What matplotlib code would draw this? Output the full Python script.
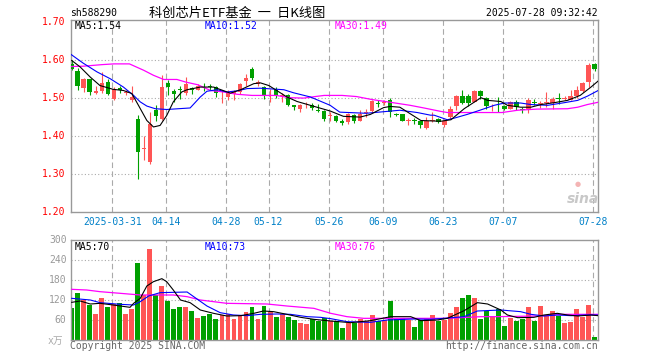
import matplotlib
matplotlib.use("Agg")
import matplotlib.pyplot as plt
import numpy as np

# ---- data (88 trading days, index 0 .. 87) ----
opens = [1.589, 1.569, 1.525, 1.548, 1.512, 1.518, 1.541, 1.497, 1.526, 1.512,
         1.495, 1.443, 1.364, 1.331, 1.467, 1.443, 1.540, 1.517, 1.522, 1.512,
         1.526, 1.521, 1.529, 1.531, 1.528, 1.501, 1.502, 1.509, 1.515, 1.544,
         1.575, 1.537, 1.528, 1.514, 1.521, 1.505, 1.508, 1.480, 1.469, 1.485,
         1.482, 1.467, 1.465, 1.453, 1.451, 1.440, 1.436, 1.454, 1.440, 1.461,
         1.464, 1.485, 1.486, 1.495, 1.456, 1.456, 1.439, 1.441, 1.439, 1.421,
         1.438, 1.443, 1.427, 1.449, 1.477, 1.504, 1.504, 1.490, 1.517, 1.500,
         1.477, 1.479, 1.478, 1.471, 1.490, 1.469, 1.469, 1.490, 1.483, 1.486,
         1.487, 1.500, 1.497, 1.495, 1.504, 1.517, 1.541, 1.589]
highs = [1.598, 1.578, 1.552, 1.548, 1.532, 1.567, 1.550, 1.528, 1.532, 1.521,
         1.530, 1.454, 1.398, 1.462, 1.482, 1.559, 1.546, 1.524, 1.532, 1.554,
         1.528, 1.537, 1.539, 1.535, 1.531, 1.519, 1.521, 1.521, 1.539, 1.563,
         1.582, 1.547, 1.532, 1.524, 1.528, 1.512, 1.511, 1.482, 1.484, 1.490,
         1.486, 1.484, 1.467, 1.462, 1.454, 1.443, 1.460, 1.458, 1.468, 1.471,
         1.493, 1.493, 1.493, 1.500, 1.460, 1.458, 1.447, 1.447, 1.440, 1.449,
         1.462, 1.447, 1.445, 1.477, 1.506, 1.519, 1.509, 1.519, 1.519, 1.502,
         1.484, 1.502, 1.482, 1.491, 1.493, 1.475, 1.500, 1.497, 1.491, 1.515,
         1.502, 1.513, 1.504, 1.519, 1.532, 1.541, 1.592, 1.592]
lows = [1.574, 1.519, 1.515, 1.508, 1.511, 1.512, 1.506, 1.493, 1.512, 1.506,
        1.489, 1.287, 1.335, 1.326, 1.439, 1.442, 1.506, 1.489, 1.497, 1.506,
        1.511, 1.519, 1.518, 1.519, 1.502, 1.486, 1.493, 1.493, 1.511, 1.530,
        1.547, 1.532, 1.497, 1.490, 1.500, 1.490, 1.478, 1.467, 1.462, 1.473,
        1.467, 1.462, 1.440, 1.440, 1.436, 1.429, 1.430, 1.433, 1.439, 1.449,
        1.460, 1.475, 1.480, 1.449, 1.451, 1.438, 1.427, 1.432, 1.420, 1.418,
        1.436, 1.433, 1.423, 1.445, 1.468, 1.484, 1.477, 1.489, 1.497, 1.471,
        1.465, 1.462, 1.467, 1.469, 1.467, 1.460, 1.460, 1.482, 1.473, 1.475,
        1.471, 1.484, 1.493, 1.493, 1.500, 1.515, 1.528, 1.570]
closes = [1.575, 1.531, 1.548, 1.515, 1.518, 1.539, 1.509, 1.524, 1.519, 1.514,
          1.502, 1.357, 1.368, 1.432, 1.451, 1.528, 1.528, 1.511, 1.520, 1.535,
          1.521, 1.532, 1.527, 1.529, 1.513, 1.503, 1.513, 1.515, 1.535, 1.553,
          1.552, 1.541, 1.504, 1.516, 1.506, 1.507, 1.482, 1.475, 1.480, 1.487,
          1.473, 1.466, 1.445, 1.455, 1.438, 1.434, 1.458, 1.440, 1.458, 1.463,
          1.491, 1.483, 1.488, 1.462, 1.454, 1.440, 1.441, 1.439, 1.427, 1.440,
          1.442, 1.436, 1.440, 1.471, 1.504, 1.487, 1.487, 1.517, 1.504, 1.477,
          1.479, 1.477, 1.470, 1.489, 1.475, 1.468, 1.493, 1.486, 1.485, 1.490,
          1.497, 1.496, 1.499, 1.504, 1.521, 1.539, 1.585, 1.575]
# volume, 万手
volumes = [97, 141, 120, 105, 78, 126, 100, 109, 110, 78,
           93, 231, 135, 273, 135, 162, 117, 94, 99, 99,
           87, 67, 72, 78, 63, 75, 78, 63, 75, 84,
           99, 63, 103, 84, 69, 78, 69, 60, 51, 48,
           63, 57, 66, 57, 57, 36, 52, 51, 63, 57,
           75, 57, 60, 117, 63, 66, 60, 39, 60, 63,
           75, 57, 60, 81, 99, 126, 135, 126, 63, 87,
           72, 93, 42, 66, 57, 63, 99, 57, 102, 75,
           87, 72, 51, 54, 93, 69, 105, 9]

# moving average lines (index, value)
ma5_x = [0, 1.4, 3.1, 4.7, 6.9, 8.6, 10, 11.1, 12.5, 13.6, 14.7, 15.8, 16.9, 18.3, 19.2,
         21.4, 23.6, 26.4, 28.1, 30.3, 31.4, 32.8, 34.2, 35.8, 37.5, 39.7, 43, 45.2,
         48, 49.7, 51.9, 53, 54.6, 56.3, 58.1, 61.4, 63.1, 65.3, 68.1, 69.2, 71.4, 72.5,
         74.7, 76.4, 78.1, 80.3, 82.5, 84.6, 86.4, 87.6]
ma5_y = [1.598, 1.581, 1.554, 1.532, 1.522, 1.519, 1.511, 1.480, 1.440, 1.423, 1.427, 1.453,
         1.489, 1.515, 1.521, 1.528, 1.528, 1.512, 1.521, 1.537, 1.539, 1.532, 1.518, 1.502,
         1.490, 1.480, 1.465, 1.451, 1.449, 1.456, 1.474, 1.477, 1.475, 1.458, 1.440, 1.438,
         1.442, 1.471, 1.500, 1.493, 1.490, 1.480, 1.475, 1.475, 1.482, 1.487, 1.493, 1.506,
         1.528, 1.544]
ma10_x = [-0.3, 1.9, 4.2, 6.4, 8.6, 10.3, 11.4, 12.5, 13.9, 15.8, 19.7, 21.4, 22.5, 24.2,
          25.8, 27.5, 29.2, 31.4, 35.3, 36.9, 39.7, 43, 44.6, 49, 51.8, 54.6, 57.5, 59.7,
          60.3, 62.5, 63.6, 65.8, 68.1, 70.3, 72, 74.7, 76.4, 79.2, 82, 84.2, 85.8, 87.6]
ma10_y = [1.616, 1.591, 1.568, 1.550, 1.528, 1.506, 1.489, 1.478, 1.471, 1.469, 1.473,
          1.502, 1.517, 1.521, 1.515, 1.518, 1.524, 1.525, 1.521, 1.513, 1.502, 1.480,
          1.462, 1.459, 1.463, 1.467, 1.461, 1.454, 1.454, 1.442, 1.446, 1.456, 1.468,
          1.480, 1.486, 1.486, 1.482, 1.480, 1.487, 1.493, 1.504, 1.519]
ma30_x = [-0.3, 2, 5, 7, 9.6, 12, 13.6, 15.3, 17.5, 19, 21, 23.1, 25.3, 27.5, 30, 34,
          36.3, 38.6, 40.5, 42, 45, 47.4, 50, 53, 56.3, 58.6, 61.4, 62.5, 71.6, 74.2,
          77.4, 82.5, 84.2, 85.8, 87.6]
ma30_y = [1.582, 1.583, 1.587, 1.589, 1.589, 1.572, 1.559, 1.548, 1.548, 1.541, 1.534,
          1.519, 1.515, 1.509, 1.506, 1.506, 1.500, 1.499, 1.503, 1.506, 1.506, 1.503,
          1.495, 1.488, 1.480, 1.473, 1.464, 1.461, 1.461, 1.467, 1.470, 1.471, 1.475,
          1.482, 1.488]

vma5_x = [0, 1.4, 3.1, 4.7, 6.9, 9.7, 10.3, 11.4, 12.5, 13.6, 15, 15.8, 16.9, 18.1, 19.7,
          21.4, 23.6, 25.8, 28.1, 30.3, 31.9, 33.6, 35.8, 38.1, 40.3, 43.1, 46.4, 49.7,
          53.1, 56.4, 58.1, 60.8, 62.5, 65.3, 67.5, 69.2, 71.4, 72.5, 74.2, 76.9, 78.6,
          80.8, 82.5, 84.2, 86.4, 87.6]
vma5_y = [113, 117, 108, 110, 105, 98, 110, 125, 162, 175, 184, 175, 150, 120, 112, 90,
          80, 72, 73, 80, 87, 85, 77, 68, 62, 57, 52, 58, 70, 70, 58, 60, 65, 88, 112,
          108, 90, 75, 67, 68, 75, 80, 75, 72, 75, 73]
vma10_x = [0, 3.1, 4.7, 8.1, 10.3, 11.4, 12.8, 14.7, 19.2, 20.3, 22.5, 24.7, 26.9, 29.2,
           31.4, 34.2, 36.4, 39.2, 41.4, 43.1, 45.8, 49.7, 52.5, 56.9, 59.7, 61.9, 65.3,
           67.5, 71.4, 74.7, 76.4, 78.6, 80.8, 83.1, 85.3, 87.6]
vma10_y = [125, 120, 112, 107, 105, 115, 132, 142, 144, 130, 102, 82, 75, 73, 77, 78, 77,
           70, 68, 64, 55, 53, 60, 63, 62, 65, 70, 87, 90, 85, 77, 72, 75, 73, 75, 75]
vma30_x = [0, 2.5, 4.7, 8.1, 11.4, 13.6, 16.9, 19.2, 21.4, 25.8, 32.5, 35.8, 40.3, 43.1,
           45.8, 48.6, 56.9, 62.5, 68.1, 70.8, 77.5, 81.9, 87.6]
vma30_y = [152, 150, 145, 140, 135, 135, 135, 130, 120, 110, 108, 102, 95, 80, 70, 65, 65,
           65, 70, 70, 72, 77, 77]

tick_idx = [7, 16, 26, 33, 43, 52, 62, 72, 87]
tick_lab = ["2025-03-31", "04-14", "04-28", "05-12", "05-26", "06-09", "06-23", "07-07", "07-28"]
price_ticks = [1.20, 1.30, 1.40, 1.50, 1.60, 1.70]
vol_ticks = [60, 120, 180, 240, 300]

RED = "#ff5555"
GREEN = "#00a000"
GRID = "#aaaaaa"
W, H = 660, 360
mono = "DejaVu Sans Mono"

fig = plt.figure(figsize=(6.6, 3.6), dpi=100)
fig.patch.set_facecolor("white")


def box(l, t, r, b):
    return [l / W, 1 - b / H, (r - l) / W, (b - t) / H]


def ftext(x, y, s, **kw):
    fig.text(x / W, 1 - y / H, s, **kw)


ax = fig.add_axes(box(70.7, 20, 597.7, 211.7))
ax2 = fig.add_axes(box(70.7, 240, 597.7, 340))

idx = np.arange(len(closes))
o = np.array(opens)
c = np.array(closes)
up = c >= o
cols = np.where(up, RED, GREEN)

for a in (ax, ax2):
    a.set_xlim(-0.17, 87.52)
    a.set_xticks([])
    a.set_yticks([])
    for s in a.spines.values():
        s.set_color("#999999")
        s.set_linewidth(1.0)
    for t in tick_idx:
        a.axvline(t - 0.25, color=GRID, lw=0.8, ls=(0, (5, 3)), zorder=0)

ax.set_ylim(1.20, 1.7045)
for p in price_ticks[1:-1]:
    ax.axhline(p, color=GRID, lw=0.8, ls=(0, (1, 2)), zorder=0)
ax2.set_ylim(0, 300)
for v in vol_ticks[:-1]:
    ax2.axhline(v, color=GRID, lw=0.8, ls=(0, (1, 2)), zorder=0)

# candles
ax.vlines(idx, lows, highs, colors=cols, lw=0.8, zorder=2)
body = np.maximum(np.abs(c - o), 0.0018)
ax.bar(idx, body, bottom=np.minimum(o, c), width=0.75, color=cols, lw=0, zorder=3)

ax.plot(ma30_x, ma30_y, color="#ff00ff", lw=0.9, zorder=4)
ax.plot(ma10_x, ma10_y, color="#0000ff", lw=0.8, zorder=4)
ax.plot(ma5_x, ma5_y, color="black", lw=0.8, zorder=4)

# volume
ax2.bar(idx, volumes, width=0.82, color=cols, lw=0, zorder=2)
ax2.plot(vma30_x, vma30_y, color="#ff00ff", lw=0.9, zorder=4)
ax2.plot(vma10_x, vma10_y, color="#0000ff", lw=0.8, zorder=4)
ax2.plot(vma5_x, vma5_y, color="black", lw=0.8, zorder=4)

# tick labels
for p in price_ticks:
    y = 211.7 - (p - 1.20) * 380
    ftext(65.5, y, "%.2f" % p, ha="right", va="center", color="red", fontsize=7, family=mono)
for v in vol_ticks:
    y = 340 - v / 3
    ftext(66.5, y, str(v), ha="right", va="center", color="#999999", fontsize=7, family=mono)
ftext(63, 341, "x万", ha="right", va="center", color="#aaaaaa", fontsize=7,
      family=[mono, "Noto Sans CJK SC"])
for t, lab in zip(tick_idx, tick_lab):
    x = 70.7 + (t - 0.25 + 0.17) * 6.01
    ftext(x, 221.7, lab, ha="center", va="center", color="#0080c8", fontsize=7, family=mono)

# header
ftext(70, 13.5, "sh588290", ha="left", va="center", fontsize=7, family=mono)
ftext(237, 13, "科创芯片ETF基金  一  日K线图", ha="center", va="center", fontsize=9.5,
      family=["Noto Sans CJK SC", "DejaVu Sans"])
ftext(597.5, 12.5, "2025-07-28 09:32:42", ha="right", va="center", fontsize=7, family=mono)

# legends
ftext(74.7, 25.7, "MA5:1.54", ha="left", va="center", fontsize=7, family=mono, color="black")
ftext(204.7, 25.7, "MA10:1.52", ha="left", va="center", fontsize=7, family=mono, color="#0000ff")
ftext(334.7, 25.7, "MA30:1.49", ha="left", va="center", fontsize=7, family=mono, color="#ff00ff")
ftext(74.7, 246.7, "MA5:70", ha="left", va="center", fontsize=7, family=mono, color="black")
ftext(204.7, 246.7, "MA10:73", ha="left", va="center", fontsize=7, family=mono, color="#0000ff")
ftext(334.7, 246.7, "MA30:76", ha="left", va="center", fontsize=7, family=mono, color="#ff00ff")

# footer + watermark
ftext(70, 345.7, "Copyright 2025 SINA.COM", ha="left", va="center", fontsize=7,
      family=mono, color="#666666")
ftext(597.7, 345.7, "http://finance.sina.com.cn", ha="right", va="center", fontsize=7,
      family=mono, color="#666666")
ftext(583, 199, "sina", ha="center", va="center", fontsize=10, style="italic",
      weight="bold", color="#c8c8c8")
ftext(578, 184, "●", ha="center", va="center", fontsize=5, color="#f4b4b4")

fig.savefig("out.png", dpi=100)
